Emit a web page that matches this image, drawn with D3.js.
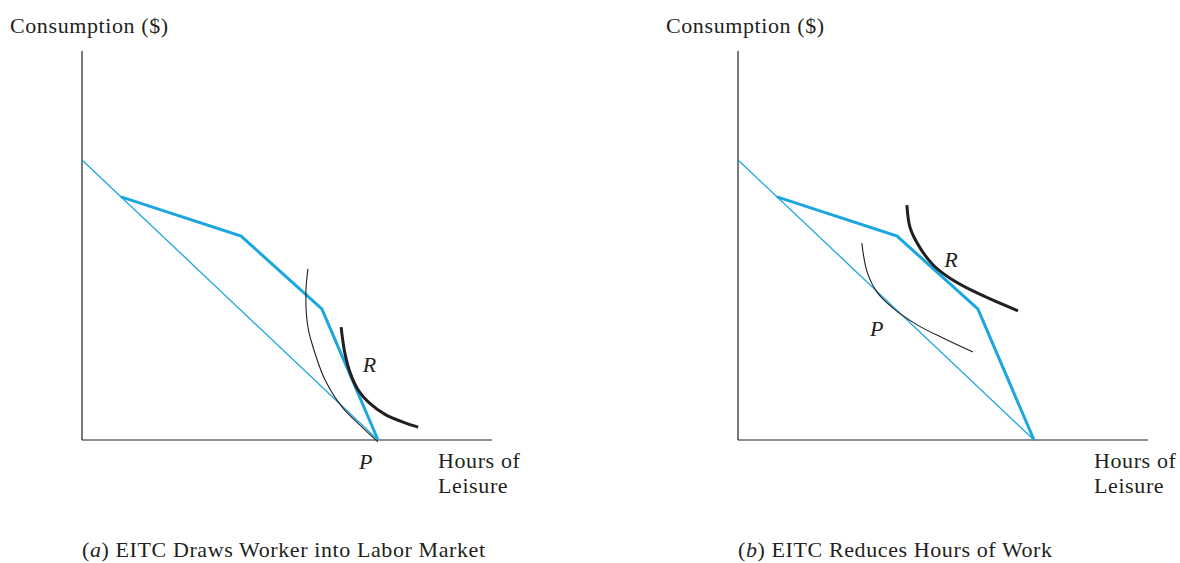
<!DOCTYPE html>
<html>
<head>
<meta charset="utf-8">
<script src="https://cdn.jsdelivr.net/npm/d3@7"></script>
<style>
  body { margin: 0; background: #fff; }
  text { font-family: "Liberation Serif", "Times New Roman", serif; fill: #231f20; letter-spacing: 0.6px; }
</style>
</head>
<body>
<svg id="chart" width="1180" height="563"></svg>
<script>
// leisure (x) and consumption (y), both on a 0-100 scale
var budgetLine = [[0, 72], [72.2, 0]];
var eitcLine = [[9.5, 62.5], [38.8, 52.4], [58.5, 33.7], [72.2, 0]];

var curveA_P = [[55.1, 44.0], [54.6, 37.8], [55.1, 29.0], [56.8, 22.4], [59.3, 15.4], [63.4, 8.5], [68.3, 3.3], [72.2, -0.5]];
var curveA_R = [[63.2, 29.0], [64.1, 22.4], [65.5, 17.0], [67.4, 12.8], [70.0, 9.6], [73.9, 6.6], [78.8, 4.4], [82.0, 3.3]];

var curveB_P = [[30.2, 50.6], [31.5, 43.2], [33.9, 38.0], [37.8, 33.9], [43.7, 29.6], [50.0, 26.2], [57.3, 22.6]];
var curveB_R = [[41.2, 60.4], [42.0, 54.5], [44.4, 49.4], [47.6, 45.0], [51.7, 41.6], [58.3, 37.8], [68.3, 33.2]];

var yLabel = "Consumption ($)";
var xLabel = ["Hours of", "Leisure"];
var captions = [["a", " EITC Draws Worker into Labor Market"], ["b", " EITC Reduces Hours of Work"]];

// label anchors: [text, x, y] in data units
var labelsA = [["R", 70.2, 17.5], ["P", 69.3, -7.5]];
var labelsB = [["R", 52.0, 44.5], ["P", 33.9, 26.7]];

var blue = "#1ba6e0";
var svg = d3.select("#chart");

var panels = [
  { left: 82, curves: [curveA_P, curveA_R], labels: labelsA, caption: captions[0] },
  { left: 738, curves: [curveB_P, curveB_R], labels: labelsB, caption: captions[1] }
];

panels.forEach(function(p) {
  var x = d3.scaleLinear().domain([0, 100]).range([p.left, p.left + 410]);
  var y = d3.scaleLinear().domain([0, 100]).range([440, 51]);
  var g = svg.append("g");

  var straight = d3.line().x(function(d) { return x(d[0]); }).y(function(d) { return y(d[1]); });
  var smooth = d3.line().x(function(d) { return x(d[0]); }).y(function(d) { return y(d[1]); })
    .curve(d3.curveCatmullRom.alpha(0.5));

  // axes
  g.append("line").attr("x1", x(0)).attr("x2", x(0)).attr("y1", y(100)).attr("y2", y(0))
    .attr("stroke", "#231f20").attr("stroke-width", 1.2);
  g.append("line").attr("x1", x(0)).attr("x2", x(100)).attr("y1", y(0)).attr("y2", y(0))
    .attr("stroke", "#231f20").attr("stroke-width", 1.2);

  g.append("path").attr("d", straight(budgetLine))
    .attr("fill", "none").attr("stroke", blue).attr("stroke-width", 1.3);
  g.append("path").attr("d", straight(eitcLine))
    .attr("fill", "none").attr("stroke", blue).attr("stroke-width", 3);

  g.append("path").attr("d", smooth(p.curves[0]))
    .attr("fill", "none").attr("stroke", "#231f20").attr("stroke-width", 1.1);
  g.append("path").attr("d", smooth(p.curves[1]))
    .attr("fill", "none").attr("stroke", "#231f20").attr("stroke-width", 3);

  p.labels.forEach(function(l) {
    g.append("text").attr("x", x(l[1])).attr("y", y(l[2]))
      .attr("text-anchor", "middle").attr("font-style", "italic").attr("font-size", 22)
      .text(l[0]);
  });

  g.append("text").attr("x", p.left - 72).attr("y", 33).attr("font-size", 22).text(yLabel);

  var xl = g.append("text").attr("y", 468).attr("font-size", 22);
  xl.append("tspan").attr("x", x(100) - 54).text(xLabel[0]);
  xl.append("tspan").attr("x", x(100) - 54).attr("dy", 25).text(xLabel[1]);

  var cap = g.append("text").attr("x", p.left).attr("y", 557).attr("font-size", 22);
  cap.append("tspan").text("(");
  cap.append("tspan").attr("font-style", "italic").text(p.caption[0]);
  cap.append("tspan").text(")" + p.caption[1]);
});
</script>
</body>
</html>
